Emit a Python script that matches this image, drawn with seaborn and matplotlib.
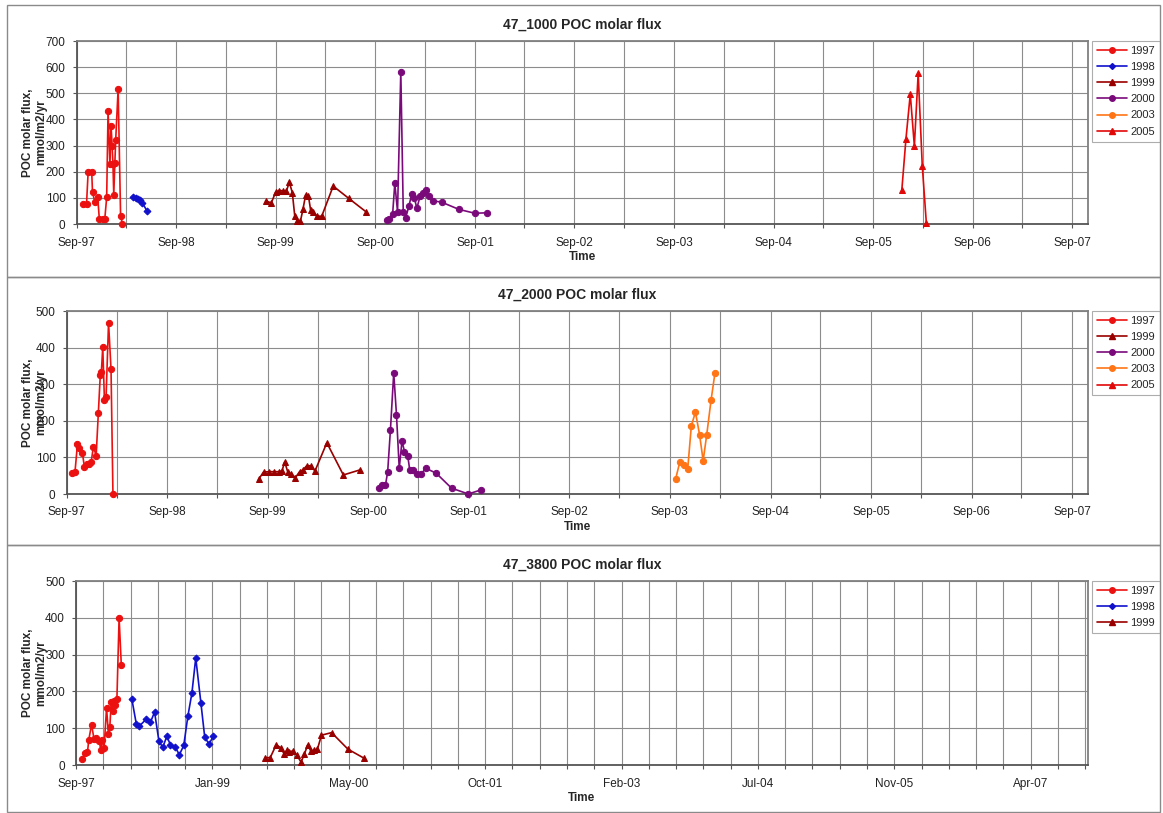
"""POC molar flux time series at three trap depths (47_1000, 47_2000, 47_3800)."""

import numpy as np
import pandas as pd
import matplotlib
matplotlib.use('Agg')
import matplotlib.pyplot as plt
import matplotlib.dates as mdates
from matplotlib.lines import Line2D
from matplotlib.patches import Rectangle
import seaborn as sns

# ---------------------------------------------------
# DATA  (dates, POC molar flux in mmol/m2/yr)
# ---------------------------------------------------

# 47_1000
d1000_1997 = ['1997-09-25', '1997-10-07', '1997-10-13', '1997-10-26', '1997-10-29', '1997-11-07',
              '1997-11-17', '1997-11-23', '1997-12-07', '1997-12-13', '1997-12-20', '1997-12-25',
              '1998-01-01', '1998-01-05', '1998-01-09', '1998-01-12', '1998-01-15', '1998-01-19',
              '1998-01-22', '1998-01-31', '1998-02-09', '1998-02-16']
f1000_1997 = [75, 75, 200, 200, 121, 83, 104, 19, 19, 19, 102, 432,
              228, 376, 300, 228, 112, 235, 320, 517, 32, 0]

d1000_1998 = ['1998-03-26', '1998-04-05', '1998-04-13', '1998-04-21', '1998-04-29', '1998-05-17']
f1000_1998 = [105, 100, 96, 90, 82, 50]

d1000_1999 = ['1999-07-26', '1999-08-16', '1999-09-01', '1999-09-14', '1999-09-27', '1999-10-10',
              '1999-10-21', '1999-11-01', '1999-11-10', '1999-11-19', '1999-12-01', '1999-12-10',
              '1999-12-20', '1999-12-30', '2000-01-07', '2000-01-17', '2000-01-29', '2000-02-17',
              '2000-03-30', '2000-05-26', '2000-07-28']
f1000_1999 = [88, 81, 122, 128, 127, 125, 160, 120, 30, 12, 12, 56,
              112, 108, 54, 47, 30, 30, 145, 98, 47]

d1000_2000 = ['2000-10-12', '2000-10-21', '2000-11-03', '2000-11-11', '2000-11-21', '2000-12-03',
              '2000-12-12', '2000-12-21', '2001-01-02', '2001-01-12', '2001-01-22', '2001-01-31',
              '2001-02-12', '2001-02-24', '2001-03-05', '2001-03-17', '2001-03-31', '2001-05-03',
              '2001-07-04', '2001-09-01', '2001-10-16']
f1000_2000 = [15, 20, 38, 156, 47, 583, 47, 24, 70, 114, 98, 60,
              108, 117, 130, 108, 89, 83, 56, 41, 43]

d1000_2005 = ['2005-12-15', '2005-12-30', '2006-01-15', '2006-01-30', '2006-02-13', '2006-02-28',
              '2006-03-15']
f1000_2005 = [130, 324, 497, 298, 576, 223, 3]

# 47_2000
d2000_1997 = ['1997-09-21', '1997-10-01', '1997-10-10', '1997-10-17', '1997-10-28', '1997-11-04',
              '1997-11-13', '1997-11-21', '1997-11-29', '1997-12-07', '1997-12-17', '1997-12-25',
              '1998-01-01', '1998-01-05', '1998-01-10', '1998-01-16', '1998-01-22', '1998-01-31',
              '1998-02-09', '1998-02-16']
f2000_1997 = [57, 59, 136, 127, 113, 75, 82, 81, 88, 129, 105, 222,
              325, 334, 402, 257, 264, 468, 341, 0]

d2000_1999 = ['1999-07-30', '1999-08-17', '1999-09-05', '1999-09-23', '1999-10-11', '1999-10-23',
              '1999-11-02', '1999-11-13', '1999-11-26', '1999-12-11', '1999-12-26', '2000-01-07',
              '2000-01-21', '2000-02-04', '2000-02-20', '2000-04-03', '2000-06-02', '2000-08-02']
f2000_1999 = [40, 60, 61, 61, 61, 63, 88, 60, 54, 45, 61, 66,
              77, 77, 63, 140, 52, 66]

d2000_2000 = ['2000-10-11', '2000-10-21', '2000-11-02', '2000-11-10', '2000-11-20', '2000-12-02',
              '2000-12-12', '2000-12-22', '2001-01-01', '2001-01-10', '2001-01-22', '2001-01-29',
              '2001-02-11', '2001-02-25', '2001-03-11', '2001-03-29', '2001-05-05', '2001-06-30',
              '2001-08-30', '2001-10-14']
f2000_2000 = [16, 25, 24, 61, 175, 331, 216, 70, 145, 116, 104, 66,
              66, 55, 55, 70, 57, 16, 0, 11]

d2000_2003 = ['2003-09-22', '2003-10-07', '2003-10-21', '2003-11-05', '2003-11-18', '2003-12-03',
              '2003-12-18', '2003-12-31', '2004-01-13', '2004-01-29', '2004-02-12']
f2000_2003 = [41, 87, 78, 69, 186, 224, 162, 91, 162, 258, 331]

# 47_3800
d3800_1997 = ['1997-09-24', '1997-10-04', '1997-10-13', '1997-10-18', '1997-10-28', '1997-11-06',
              '1997-11-15', '1997-11-25', '1997-12-01', '1997-12-07', '1997-12-13', '1997-12-22',
              '1997-12-29', '1998-01-03', '1998-01-08', '1998-01-13', '1998-01-17', '1998-01-23',
              '1998-01-29', '1998-02-06', '1998-02-14']
f3800_1997 = [16, 33, 35, 69, 110, 71, 73, 66, 41, 69, 47, 155,
              83, 103, 171, 148, 175, 164, 180, 400, 273]

d3800_1998 = ['1998-03-25', '1998-04-10', '1998-04-20', '1998-05-16', '1998-06-01', '1998-06-16',
              '1998-07-02', '1998-07-16', '1998-07-31', '1998-08-13', '1998-08-31', '1998-09-15',
              '1998-10-01', '1998-10-16', '1998-10-31', '1998-11-14', '1998-12-03', '1998-12-17',
              '1999-01-02', '1999-01-17']
f3800_1998 = [178, 112, 105, 124, 116, 144, 65, 48, 78, 55, 48, 28,
              53, 132, 196, 291, 168, 75, 57, 78]

d3800_1999 = ['1999-07-27', '1999-08-14', '1999-09-05', '1999-09-21', '1999-10-05', '1999-10-14',
              '1999-10-23', '1999-11-04', '1999-11-19', '1999-12-05', '1999-12-17', '1999-12-29',
              '2000-01-10', '2000-01-22', '2000-02-03', '2000-02-18', '2000-03-26', '2000-05-25',
              '2000-07-24']
f3800_1999 = [20, 20, 55, 47, 29, 40, 36, 38, 27, 8, 29, 54,
              38, 40, 43, 81, 88, 43, 18]

legend_1000 = ['1997', '1998', '1999', '2000', '2003', '2005']
legend_2000 = ['1997', '1999', '2000', '2003', '2005']
legend_3800 = ['1997', '1998', '1999']

# ---------------------------------------------------
# STYLE
# ---------------------------------------------------

sns.set_theme(style='white')
plt.rcParams['font.family'] = ['Liberation Sans', 'DejaVu Sans']

year_style = {
    '1997': ('#ec1111', 'o', 4.5),
    '1998': ('#1111cc', 'D', 3.5),
    '1999': ('#990000', '^', 5),
    '2000': ('#7a0a7a', 'o', 4.5),
    '2003': ('#ff7415', 'o', 4.5),
    '2005': ('#e00808', '^', 5),
}

GRID = '#8c8c8c'
START = pd.Timestamp('1997-09-01')
END = START + pd.Timedelta(days=3710)


def draw_panel(ax, title, series, legend_years, ymax, tick_mode):
    for year, dates, flux in series:
        color, marker, ms = year_style[year]
        sns.lineplot(x=pd.to_datetime(dates), y=flux, ax=ax, color=color,
                     marker=marker, markersize=ms, markeredgecolor=color,
                     linewidth=1.2, sort=False, estimator=None, legend=False,
                     clip_on=False, zorder=3)

    ax.set_xlim(START, END)
    ax.set_ylim(0, ymax)
    ax.set_yticks(np.arange(0, ymax + 1, 100))

    if tick_mode == 'year':
        ax.xaxis.set_major_locator(mdates.MonthLocator(bymonth=9))
        ax.xaxis.set_minor_locator(mdates.MonthLocator(bymonth=3))
    else:
        base = mdates.date2num(START)
        ax.xaxis.set_major_locator(plt.FixedLocator(base + np.arange(0, 3701, 500)))
        ax.xaxis.set_minor_locator(plt.FixedLocator(base + np.arange(0, 3701, 100)))
    ax.xaxis.set_major_formatter(mdates.DateFormatter('%b-%y'))

    ax.grid(True, which='both', color=GRID, linewidth=0.8)
    ax.set_axisbelow(True)
    ax.tick_params(axis='both', which='both', length=3, width=0.8, color='#555555',
                   labelsize=8.5, labelcolor='#222222', pad=5, bottom=True, left=True)
    ax.tick_params(axis='x', which='major', pad=6)

    for side in ['top', 'right']:
        ax.spines[side].set_color('#808080')
        ax.spines[side].set_linewidth(1.3)
    for side in ['left', 'bottom']:
        ax.spines[side].set_color('#555555')
        ax.spines[side].set_linewidth(1.3)

    ax.set_title(title, fontsize=10, fontweight='bold', pad=9)
    ax.set_xlabel('Time', fontsize=8.5, fontweight='bold', labelpad=2)
    ax.set_ylabel('POC molar flux,\nmmol/m2/yr', fontsize=8.5, fontweight='bold',
                  linespacing=1.15)

    handles = []
    for year in legend_years:
        color, marker, ms = year_style[year]
        handles.append(Line2D([0], [0], color=color, marker=marker, markersize=ms - 0.5,
                              markeredgecolor=color, linewidth=1.2))
    leg = ax.legend(handles, legend_years, loc='upper left', bbox_to_anchor=(1.004, 1.0),
                    fontsize=8, frameon=True, fancybox=False, borderpad=0.45,
                    labelspacing=0.55, handlelength=2.7, handletextpad=0.3,
                    borderaxespad=0.0)
    leg.get_frame().set_edgecolor('#999999')
    leg.get_frame().set_linewidth(0.8)


W, H = 1163, 813
fig = plt.figure(figsize=(W / 100, H / 100), dpi=100)


def px_axes(left, right, top, bottom):
    return fig.add_axes([left / W, 1 - bottom / H, (right - left) / W, (bottom - top) / H])


ax1 = px_axes(76.7, 1088, 41, 224)
ax2 = px_axes(66.7, 1088, 311, 494)
ax3 = px_axes(76, 1088, 581, 765)

draw_panel(ax1, '47_1000 POC molar flux',
           [('1997', d1000_1997, f1000_1997), ('1998', d1000_1998, f1000_1998),
            ('1999', d1000_1999, f1000_1999), ('2000', d1000_2000, f1000_2000),
            ('2005', d1000_2005, f1000_2005)],
           legend_1000, 700, 'year')

draw_panel(ax2, '47_2000 POC molar flux',
           [('1997', d2000_1997, f2000_1997), ('1999', d2000_1999, f2000_1999),
            ('2000', d2000_2000, f2000_2000), ('2003', d2000_2003, f2000_2003)],
           legend_2000, 500, 'year')

draw_panel(ax3, '47_3800 POC molar flux',
           [('1997', d3800_1997, f3800_1997), ('1998', d3800_1998, f3800_1998),
            ('1999', d3800_1999, f3800_1999)],
           legend_3800, 500, 'days')

# y label block ends near x=47 px in every panel (overlaps the tick labels as in the original)
for ax, left, right in [(ax1, 76.7, 1088), (ax2, 66.7, 1088), (ax3, 76, 1088)]:
    ax.yaxis.set_label_coords((47 - left) / (right - left), 0.5)

# chart frames
for top, bottom in [(5, 277), (277, 545), (545, 812)]:
    fig.add_artist(Rectangle((7 / W, 1 - bottom / H), (1160 - 7) / W, (bottom - top) / H,
                             transform=fig.transFigure, fill=False,
                             edgecolor='#8a8a8a', linewidth=1.0))

fig.savefig('out.png', dpi=100)
